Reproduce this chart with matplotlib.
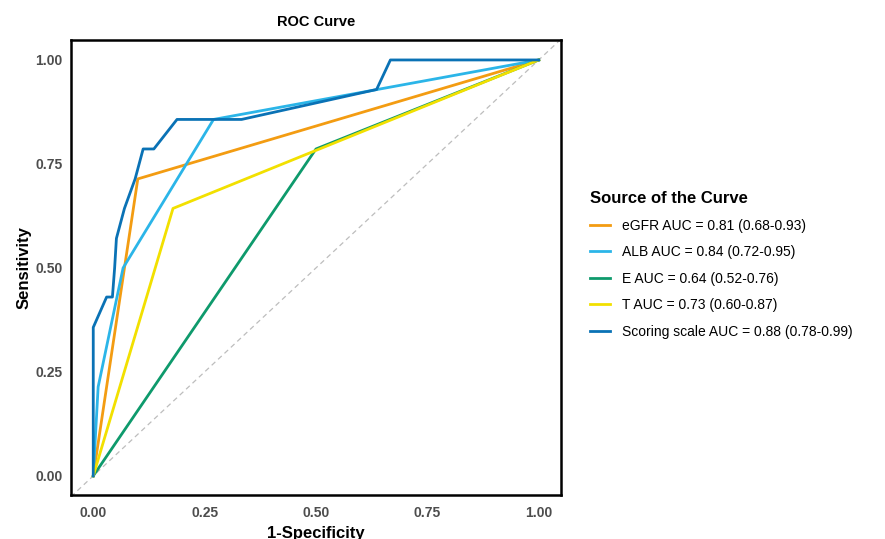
import numpy as np
import matplotlib.pyplot as plt

plt.rcParams['font.family'] = ['Liberation Sans', 'DejaVu Sans']

# ROC points (1-specificity, sensitivity)
egfr_x = [0.0, 0.10, 1.0]
egfr_y = [0.0, 0.714, 1.0]
alb_x = [0.0, 0.011, 0.067, 0.27, 1.0]
alb_y = [0.0, 0.214, 0.50, 0.857, 1.0]
e_x = [0.0, 0.50, 1.0]
e_y = [0.0, 0.786, 1.0]
t_x = [0.0, 0.179, 1.0]
t_y = [0.0, 0.643, 1.0]
score_x = [0.0, 0.0, 0.03, 0.043, 0.048, 0.052, 0.07, 0.094, 0.112, 0.136, 0.188, 0.333, 0.636, 0.667, 1.0]
score_y = [0.0, 0.357, 0.43, 0.43, 0.50, 0.571, 0.643, 0.714, 0.786, 0.786, 0.857, 0.857, 0.929, 1.0, 1.0]

labels = ["eGFR AUC = 0.81 (0.68-0.93)",
          "ALB AUC = 0.84 (0.72-0.95)",
          "E AUC = 0.64 (0.52-0.76)",
          "T AUC = 0.73 (0.60-0.87)",
          "Scoring scale AUC = 0.88 (0.78-0.99)"]
colors = ["#F39C12", "#2BB5E8", "#0E9A6C", "#F2E000", "#0A72B5"]
ticks = [0.0, 0.25, 0.5, 0.75, 1.0]

fig = plt.figure(figsize=(8.85, 5.39), dpi=100)
ax = fig.add_axes([0.0802, 0.0816, 0.5537, 0.8442])

# 参考对角线
ax.plot([-0.05, 1.05], [-0.05, 1.05], ls=(0, (4, 3)), color="#BDBDBD", lw=0.9)

curves = [(egfr_x, egfr_y), (alb_x, alb_y), (e_x, e_y), (t_x, t_y), (score_x, score_y)]
for (x, y), lab, c in zip(curves, labels, colors):
    ax.plot(x, y, color=c, lw=2.0, label=lab)

ax.set_xlim(-0.05, 1.05)
ax.set_ylim(-0.046, 1.048)
ax.set_xticks(ticks)
ax.set_yticks(ticks)
ax.set_xticklabels([f"{t:.2f}" for t in ticks], fontweight="bold", color="#4D4D4D", fontsize=10)
ax.set_yticklabels([f"{t:.2f}" for t in ticks], fontweight="bold", color="#4D4D4D", fontsize=10)
ax.tick_params(axis="x", length=0, pad=8)
ax.tick_params(axis="y", length=0, pad=6)
for s in ax.spines.values():
    s.set_linewidth(1.8)
    s.set_color("black")

ax.set_title("ROC Curve", fontweight="bold", fontsize=10.5, pad=10)
ax.set_xlabel("1-Specificity", fontweight="bold", fontsize=12, labelpad=4)
ax.set_ylabel("Sensitivity", fontweight="bold", fontsize=12, labelpad=3)

leg = ax.legend(loc="upper left", bbox_to_anchor=(1.048, 0.68), frameon=False,
                title="Source of the Curve", fontsize=10, handlelength=1.45,
                labelspacing=0.9, handletextpad=0.85, borderaxespad=0)
leg.get_title().set_fontweight("bold")
leg.get_title().set_fontsize(12)
leg._legend_box.align = "left"

plt.savefig("out.png", dpi=100)
